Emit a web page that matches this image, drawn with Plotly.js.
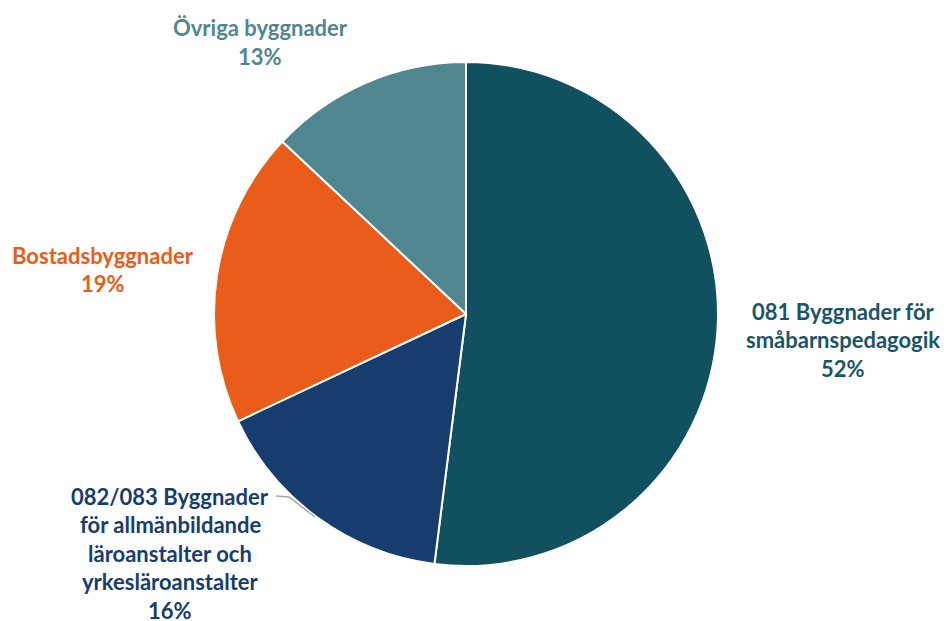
<!DOCTYPE html>
<html>
<head>
<meta charset="utf-8">
<script src="https://cdn.plot.ly/plotly-3.0.1.min.js"></script>
<style>html,body{margin:0;padding:0;background:#fff}#chart{width:944px;height:621px}</style>
</head>
<body>
<div id="chart"></div>
<script>
const categories = ["081 Byggnader för småbarnspedagogik", "082/083 Byggnader för allmänbildande läroanstalter och yrkesläroanstalter", "Bostadsbyggnader", "Övriga byggnader"];
const values = [52, 16, 19, 13];
const sliceColors = ["#11505f", "#163d6e", "#ea5c1a", "#4f868f"];
const labelColors = ["#1a5566", "#163d6e", "#ea5c1a", "#4f868f"];
const labelLines = [
  ["081 Byggnader för", "småbarnspedagogik"],
  ["082/083 Byggnader", "för allmänbildande", "läroanstalter och", "yrkesläroanstalter"],
  ["Bostadsbyggnader"],
  ["Övriga byggnader"]
];
// label anchor (center x, first-line y) in pixels
const labelPos = [[843, 311], [170, 496], [103, 255], [260, 28]];
const lineStep = 28.5;

const W = 944, H = 621;
const annotations = [];
labelLines.forEach((lines, i) => {
  const all = lines.concat([values[i] + "%"]);
  all.forEach((t, j) => {
    annotations.push({
      xref: "paper", yref: "paper",
      x: labelPos[i][0] / W, y: 1 - (labelPos[i][1] + j * lineStep) / H,
      xanchor: "center", yanchor: "middle",
      text: t, showarrow: false,
      font: {family: "Lato, 'Open Sans', sans-serif", size: 22, color: labelColors[i], weight: "bold"}
    });
  });
});

const data = [{
  type: "pie",
  labels: categories,
  values: values,
  sort: false,
  direction: "clockwise",
  rotation: 0,
  textinfo: "none",
  hoverinfo: "label+percent",
  marker: {colors: sliceColors, line: {color: "#ffffff", width: 2}},
  domain: {x: [214 / W, 718 / W], y: [1 - 566 / H, 1 - 62 / H]}
}];

const layout = {
  width: W, height: H,
  margin: {l: 0, r: 0, t: 0, b: 0},
  showlegend: false,
  paper_bgcolor: "#ffffff",
  annotations: annotations,
  shapes: [{
    type: "path", xref: "paper", yref: "paper",
    path: "M " + (276 / W) + " " + (1 - 496 / H) + " L " + (289 / W) + " " + (1 - 497 / H) + " L " + (315 / W) + " " + (1 - 517 / H),
    line: {color: "#a6a6a6", width: 1.5}
  }]
};

Plotly.newPlot("chart", data, layout, {displayModeBar: false, staticPlot: true});
</script>
</body>
</html>
